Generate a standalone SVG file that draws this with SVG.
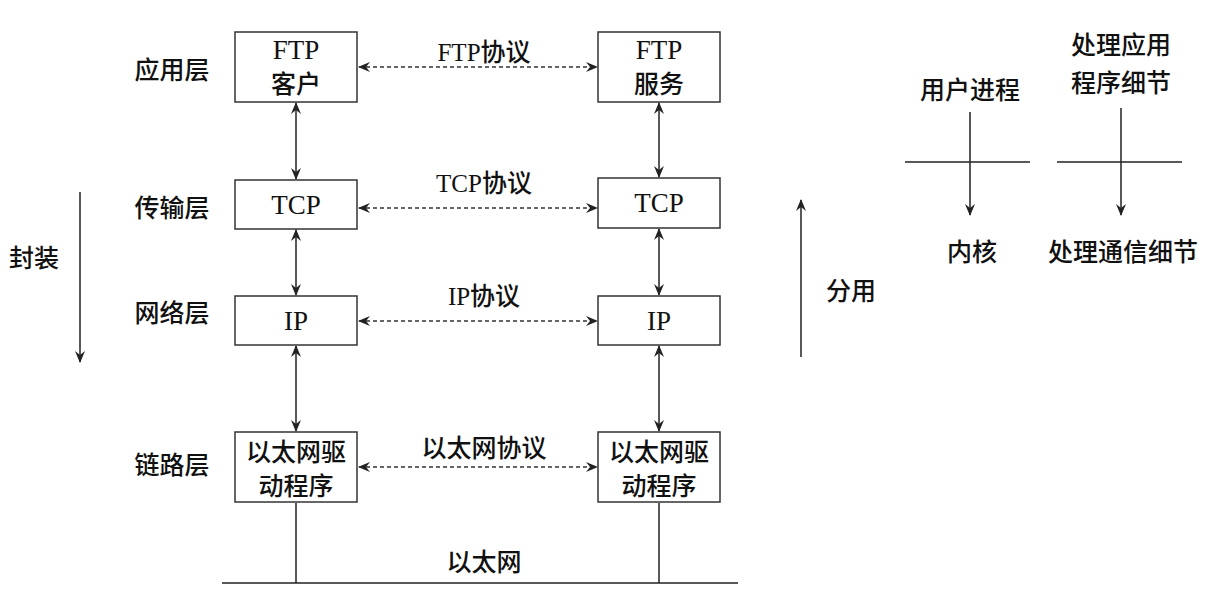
<svg xmlns="http://www.w3.org/2000/svg" width="1218" height="590" viewBox="0 0 1218 590">
<style>
text{font-family:"Liberation Serif","Noto Sans CJK SC",serif;font-size:25px;font-weight:500;fill:#111;text-anchor:middle;dominant-baseline:central}
.l{font-size:27px}
.box{fill:#fff;stroke:#333;stroke-width:1.5}
.ln{stroke:#222;stroke-width:1.5;fill:none}
.d{stroke:#333;stroke-width:1.3;stroke-dasharray:4 3;fill:none}
</style>
<defs>
<marker id="a" viewBox="0 0 12 10" refX="11" refY="5" markerWidth="12" markerHeight="10" markerUnits="userSpaceOnUse" orient="auto-start-reverse">
<path d="M0,0 L12,5 L0,10 L4,5 Z" fill="#222"/>
</marker>
</defs>
<rect width="1218" height="590" fill="#fff"/>
<g id="connectors">
<line class="ln" x1="296" y1="103" x2="296" y2="179" marker-start="url(#a)" marker-end="url(#a)"/>
<line class="ln" x1="659" y1="103" x2="659" y2="177" marker-start="url(#a)" marker-end="url(#a)"/>
<line class="ln" x1="296" y1="230" x2="296" y2="295" marker-start="url(#a)" marker-end="url(#a)"/>
<line class="ln" x1="659" y1="229" x2="659" y2="295" marker-start="url(#a)" marker-end="url(#a)"/>
<line class="ln" x1="296" y1="346" x2="296" y2="431" marker-start="url(#a)" marker-end="url(#a)"/>
<line class="ln" x1="659" y1="346" x2="659" y2="431" marker-start="url(#a)" marker-end="url(#a)"/>
<line class="d" x1="359" y1="67" x2="597" y2="67" marker-start="url(#a)" marker-end="url(#a)"/>
<line class="d" x1="359" y1="208" x2="597" y2="208" marker-start="url(#a)" marker-end="url(#a)"/>
<line class="d" x1="359" y1="321" x2="597" y2="321" marker-start="url(#a)" marker-end="url(#a)"/>
<line class="d" x1="359" y1="467" x2="597" y2="467" marker-start="url(#a)" marker-end="url(#a)"/>
<line class="ln" x1="296" y1="503" x2="296" y2="583"/>
<line class="ln" x1="659" y1="503" x2="659" y2="583"/>
<line class="ln" x1="222" y1="583" x2="738" y2="583"/>
<line class="ln" x1="80" y1="192" x2="80" y2="362" marker-end="url(#a)"/>
<line class="ln" x1="801" y1="357" x2="801" y2="200" marker-end="url(#a)"/>
<line class="ln" x1="905" y1="162" x2="1030" y2="162"/>
<line class="ln" x1="1057" y1="162" x2="1182" y2="162"/>
<line class="ln" x1="970" y1="112" x2="970" y2="215" marker-end="url(#a)"/>
<line class="ln" x1="1121" y1="108" x2="1121" y2="215" marker-end="url(#a)"/>
</g>
<g id="ftp-client"><rect class="box" x="235" y="32" width="122" height="70"/><text class="l" x="296" y="50">FTP</text><text x="296" y="84">客户</text></g>
<g id="ftp-server"><rect class="box" x="598" y="32" width="122" height="70"/><text class="l" x="659" y="50">FTP</text><text x="659" y="84">服务</text></g>
<g id="tcp-left"><rect class="box" x="235" y="180" width="122" height="49"/><text class="l" x="296" y="205">TCP</text></g>
<g id="tcp-right"><rect class="box" x="598" y="178" width="122" height="50"/><text class="l" x="659" y="203">TCP</text></g>
<g id="ip-left"><rect class="box" x="235" y="296" width="122" height="49"/><text class="l" x="296" y="321">IP</text></g>
<g id="ip-right"><rect class="box" x="598" y="296" width="122" height="49"/><text class="l" x="659" y="321">IP</text></g>
<g id="eth-left"><rect class="box" x="235" y="432" width="122" height="70"/><text x="296" y="452">以太网驱</text><text x="296" y="486">动程序</text></g>
<g id="eth-right"><rect class="box" x="598" y="432" width="122" height="70"/><text x="659" y="452">以太网驱</text><text x="659" y="486">动程序</text></g>
<g id="labels">
<text x="484" y="52">FTP协议</text>
<text x="484" y="183">TCP协议</text>
<text x="484" y="296">IP协议</text>
<text x="484" y="448">以太网协议</text>
<text x="484" y="562">以太网</text>
<text x="172" y="70">应用层</text>
<text x="172" y="208">传输层</text>
<text x="172" y="313">网络层</text>
<text x="172" y="465">链路层</text>
<text x="34" y="258">封装</text>
<text x="851" y="291">分用</text>
<text x="970" y="90">用户进程</text>
<text x="1121" y="45">处理应用</text>
<text x="1121" y="83">程序细节</text>
<text x="972" y="252">内核</text>
<text x="1123" y="252">处理通信细节</text>
</g>
</svg>
